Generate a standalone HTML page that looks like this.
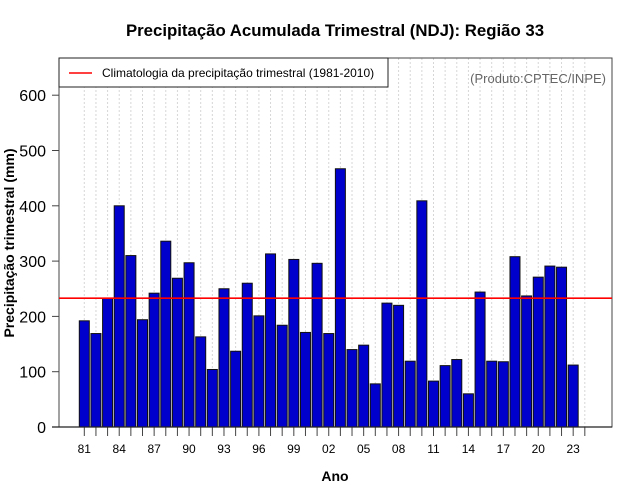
<!DOCTYPE html>
<html><head><meta charset="utf-8"><style>
html,body{margin:0;padding:0;background:#fff}
svg{display:block;font-family:"Liberation Sans",sans-serif}
</style></head><body>
<svg id="chart" width="640" height="500" viewBox="0 0 640 500">
<text x="335" y="36" text-anchor="middle" font-size="16.8" font-weight="bold">Precipitação Acumulada Trimestral (NDJ): Região 33</text>
<g id="grid"></g>
<g id="bars"></g>
<rect x="59" y="58" width="553" height="369" fill="none" stroke="#444" stroke-width="1"/>
<g id="yaxis"></g>
<g id="xaxis"></g>
<line id="clim" stroke="#ff0000" stroke-width="1.6"/>
<g>
<rect x="59" y="58" width="329" height="29" fill="#fff" stroke="#222" stroke-width="1"/>
<line x1="69" y1="73" x2="92" y2="73" stroke="#ff0000" stroke-width="1.6"/>
<text x="102" y="77" font-size="12">Climatologia da precipitação trimestral (1981-2010)</text>
</g>
<text x="606" y="83" text-anchor="end" font-size="13" fill="#666">(Produto:CPTEC/INPE)</text>
<text x="335" y="481" text-anchor="middle" font-size="14" font-weight="bold">Ano</text>
<text transform="translate(14,243) rotate(-90)" text-anchor="middle" font-size="14" font-weight="bold">Precipitação trimestral (mm)</text>
</svg>
<script>
const years = [1981,1982,1983,1984,1985,1986,1987,1988,1989,1990,1991,1992,1993,1994,1995,1996,1997,1998,1999,2000,2001,2002,2003,2004,2005,2006,2007,2008,2009,2010,2011,2012,2013,2014,2015,2016,2017,2018,2019,2020,2021,2022,2023];
const precip = [192,169,233,400,310,194,242,336,269,297,163,104,250,137,260,201,313,184,303,171,296,169,467,140,148,78,224,220,119,409,83,111,122,60,244,119,118,308,237,271,291,289,112];
const climatology = 233;
const yTicks = [0,100,200,300,400,500,600];

const NS = "http://www.w3.org/2000/svg";
const x0 = 84.3, step = 11.64, barW = 10;
const yBase = 427, pxPerUnit = 0.553;
function xPos(i){ return x0 + i*step; }
function yPos(v){ return yBase - v*pxPerUnit; }
function mk(tag, attrs, parent){
  const e = document.createElementNS(NS, tag);
  for (const k in attrs) e.setAttribute(k, attrs[k]);
  parent.appendChild(e); return e;
}
const grid = document.getElementById('grid');
const bars = document.getElementById('bars');
const xa = document.getElementById('xaxis');
const ya = document.getElementById('yaxis');
for (let i = 0; i <= years.length; i++) {
  const g = mk('line', {x1:xPos(i), x2:xPos(i), y1:58, y2:427, stroke:'#d6d6d6', 'stroke-width':1, 'stroke-dasharray':'2,2'}, grid);
  
  
  const t = mk('line', {x1:xPos(i), x2:xPos(i), y1:427, y2:436, stroke:'#444', 'stroke-width':1}, xa);
  
  
}
years.forEach((yr, i) => {
  const v = precip[i];
  const r = mk('rect', {x:xPos(i)-barW/2, y:yPos(v), width:barW, height:v*pxPerUnit, fill:'#0000cd', stroke:'#111', 'stroke-width':1}, bars);
  
  
  if (i % 3 === 0) {
    const l = mk('text', {x:xPos(i), y:453, 'text-anchor':'middle', 'font-size':12}, xa);
    l.textContent = String(yr).slice(2);
    
    
  }
});
mk('line', {x1:52, x2:612, y1:427, y2:427, stroke:'#222', 'stroke-width':1.2}, xa);
yTicks.forEach(v => {
  const t = mk('line', {x1:52, x2:59, y1:yPos(v), y2:yPos(v), stroke:'#444', 'stroke-width':1}, ya);
  
  
  const l = mk('text', {x:46, y:yPos(v)+6, 'text-anchor':'end', 'font-size':16}, ya);
  l.textContent = v;
  
  
});
const c = document.getElementById('clim');
c.setAttribute('x1', 59); c.setAttribute('x2', 612);
c.setAttribute('y1', yPos(climatology)); c.setAttribute('y2', yPos(climatology));
</script>
</body></html>
